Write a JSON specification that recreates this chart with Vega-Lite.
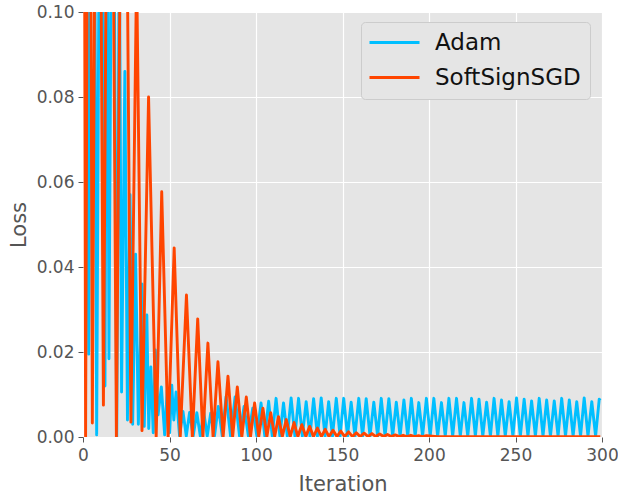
{
  "$schema": "https://vega.github.io/schema/vega-lite/v6.json",
  "width": 519,
  "height": 425,
  "autosize": {"type": "none"},
  "padding": {"left": 83, "top": 12, "right": 16, "bottom": 58},
  "background": "white",
  "config": {
    "view": {"fill": "#E5E5E5", "stroke": null},
    "axis": {
      "domain": false,
      "grid": true,
      "gridColor": "#FFFFFF",
      "gridWidth": 1.2,
      "tickColor": "#555555",
      "tickSize": 5,
      "tickWidth": 1,
      "labelColor": "#555555",
      "labelFont": "DejaVu Sans",
      "labelFontSize": 17,
      "titleColor": "#555555",
      "titleFont": "DejaVu Sans",
      "titleFontSize": 21,
      "titleFontWeight": "normal"
    }
  },
  "datasets": {
    "adam": [
      {"it": 0, "loss": 0.30}, {"it": 3.3, "loss": 0.0195}, {"it": 5.6, "loss": 0.25}, {"it": 7.9, "loss": 0.0005},
      {"it": 10.3, "loss": 0.20}, {"it": 12.7, "loss": 0.012}, {"it": 13.9, "loss": 0.15}, {"it": 15.0, "loss": 0.0184},
      {"it": 17.2, "loss": 0.18}, {"it": 19.5, "loss": 0.0}, {"it": 21.0, "loss": 0.12}, {"it": 22.3, "loss": 0.0106},
      {"it": 24.2, "loss": 0.086}, {"it": 25.7, "loss": 0.004}, {"it": 27.2, "loss": 0.057}, {"it": 28.7, "loss": 0.003},
      {"it": 30.4, "loss": 0.043}, {"it": 32.0, "loss": 0.003}, {"it": 34.1, "loss": 0.036}, {"it": 35.4, "loss": 0.0025},
      {"it": 36.9, "loss": 0.0287}, {"it": 38.0, "loss": 0.002}, {"it": 39.2, "loss": 0.0165}, {"it": 40.6, "loss": 0.001},
      {"it": 41.8, "loss": 0.0205}, {"it": 43.4, "loss": 0.0052}, {"it": 45.3, "loss": 0.0118}, {"it": 47.2, "loss": 0.0005},
      {"it": 48.7, "loss": 0.011}, {"it": 50.1, "loss": 0.001}, {"it": 51.3, "loss": 0.0122}, {"it": 52.5, "loss": 0.004},
      {"it": 53.8, "loss": 0.0106}, {"it": 55.8, "loss": 0.0003}, {"it": 57.8, "loss": 0.0060}, {"it": 59.7, "loss": 0.0002},
      {"it": 61.6, "loss": 0.0058}, {"it": 63.7, "loss": 0.0002}, {"it": 65.8, "loss": 0.0057}, {"it": 67.8, "loss": 0.0002},
      {"it": 69.8, "loss": 0.0059}, {"it": 71.8, "loss": 0.0002}, {"it": 73.8, "loss": 0.0056}, {"it": 76.0, "loss": 0.0002},
      {"it": 78.2, "loss": 0.0072}, {"it": 80.5, "loss": 0.0002}, {"it": 82.7, "loss": 0.0095}, {"it": 85.3, "loss": 0.0002},
      {"it": 87.9, "loss": 0.0094}, {"it": 90.5, "loss": 0.0002}, {"it": 93.1, "loss": 0.0072}, {"it": 95.6, "loss": 0.0002},
      {"it": 98.1, "loss": 0.0068}, {"it": 100.5, "loss": 0.0002},
      {"it": 102.9, "loss": 0.0080}, {"it": 105.1, "loss": 0.0002}, {"it": 107.3, "loss": 0.0084}, {"it": 109.4, "loss": 0.0002},
      {"it": 111.6, "loss": 0.0091}, {"it": 113.8, "loss": 0.0002}, {"it": 115.9, "loss": 0.0080}, {"it": 118.1, "loss": 0.0002},
      {"it": 120.3, "loss": 0.0092}, {"it": 122.5, "loss": 0.0002}, {"it": 124.6, "loss": 0.0091}, {"it": 126.8, "loss": 0.0002},
      {"it": 129.0, "loss": 0.0083}, {"it": 131.2, "loss": 0.0002}, {"it": 133.3, "loss": 0.0090}, {"it": 135.5, "loss": 0.0002},
      {"it": 137.7, "loss": 0.0092}, {"it": 139.9, "loss": 0.0002}, {"it": 142.0, "loss": 0.0083}, {"it": 144.2, "loss": 0.0002},
      {"it": 146.4, "loss": 0.0091}, {"it": 148.6, "loss": 0.0002}, {"it": 150.7, "loss": 0.0091}, {"it": 152.9, "loss": 0.0002},
      {"it": 155.0, "loss": 0.0082}, {"it": 157.2, "loss": 0.0002}, {"it": 159.4, "loss": 0.0091}, {"it": 161.6, "loss": 0.0002},
      {"it": 163.7, "loss": 0.0090}, {"it": 165.9, "loss": 0.0002}, {"it": 168.1, "loss": 0.0082}, {"it": 170.3, "loss": 0.0002},
      {"it": 172.4, "loss": 0.0091}, {"it": 174.6, "loss": 0.0002}, {"it": 176.8, "loss": 0.0090}, {"it": 179.0, "loss": 0.0002},
      {"it": 181.1, "loss": 0.0082}, {"it": 183.3, "loss": 0.0002}, {"it": 185.5, "loss": 0.0087}, {"it": 187.7, "loss": 0.0002},
      {"it": 189.8, "loss": 0.0091}, {"it": 192.0, "loss": 0.0002}, {"it": 194.1, "loss": 0.0081}, {"it": 196.3, "loss": 0.0002},
      {"it": 198.5, "loss": 0.0091}, {"it": 200.7, "loss": 0.0002}, {"it": 202.8, "loss": 0.0091}, {"it": 205.0, "loss": 0.0002},
      {"it": 207.2, "loss": 0.0081}, {"it": 209.4, "loss": 0.0002}, {"it": 211.5, "loss": 0.0091}, {"it": 213.7, "loss": 0.0002},
      {"it": 215.9, "loss": 0.0091}, {"it": 218.1, "loss": 0.0002}, {"it": 220.2, "loss": 0.0081}, {"it": 222.4, "loss": 0.0002},
      {"it": 224.6, "loss": 0.0091}, {"it": 226.8, "loss": 0.0002}, {"it": 228.9, "loss": 0.0089}, {"it": 231.1, "loss": 0.0002},
      {"it": 233.3, "loss": 0.0082}, {"it": 235.5, "loss": 0.0002}, {"it": 237.6, "loss": 0.0091}, {"it": 239.8, "loss": 0.0002},
      {"it": 241.9, "loss": 0.0087}, {"it": 244.1, "loss": 0.0002}, {"it": 246.3, "loss": 0.0083}, {"it": 248.5, "loss": 0.0002},
      {"it": 250.6, "loss": 0.0092}, {"it": 252.8, "loss": 0.0002}, {"it": 255.0, "loss": 0.0089}, {"it": 257.2, "loss": 0.0002},
      {"it": 259.3, "loss": 0.0085}, {"it": 261.5, "loss": 0.0002}, {"it": 263.7, "loss": 0.0091}, {"it": 265.9, "loss": 0.0002},
      {"it": 268.0, "loss": 0.0087}, {"it": 270.2, "loss": 0.0002}, {"it": 272.4, "loss": 0.0085}, {"it": 274.6, "loss": 0.0002},
      {"it": 276.7, "loss": 0.0091}, {"it": 278.9, "loss": 0.0002}, {"it": 281.1, "loss": 0.0087}, {"it": 283.3, "loss": 0.0002},
      {"it": 285.4, "loss": 0.0083}, {"it": 287.6, "loss": 0.0002}, {"it": 289.7, "loss": 0.0092}, {"it": 291.9, "loss": 0.0002},
      {"it": 294.1, "loss": 0.0083}, {"it": 296.3, "loss": 0.0002}, {"it": 298.4, "loss": 0.0089}, {"it": 299.0, "loss": 0.0086}
    ],
    "ssgd": [
      {"it": 0, "loss": 0.30}, {"it": 1.5, "loss": 0.0}, {"it": 3.5, "loss": 0.25}, {"it": 5.4, "loss": 0.0033},
      {"it": 8.5, "loss": 0.25}, {"it": 11.8, "loss": 0.0075}, {"it": 15.5, "loss": 0.25}, {"it": 19.3, "loss": 0.0},
      {"it": 23.5, "loss": 0.22}, {"it": 27.7, "loss": 0.0035}, {"it": 31.0, "loss": 0.11}, {"it": 34.1, "loss": 0.0015},
      {"it": 37.9, "loss": 0.080}, {"it": 42.3, "loss": 0.0}, {"it": 45.5, "loss": 0.0577}, {"it": 49.2, "loss": 0.0},
      {"it": 52.7, "loss": 0.0445}, {"it": 56.2, "loss": 0.0}, {"it": 59.8, "loss": 0.0334}, {"it": 63.2, "loss": 0.0},
      {"it": 66.3, "loss": 0.0278}, {"it": 69.3, "loss": 0.0}, {"it": 72.2, "loss": 0.0221}, {"it": 75.2, "loss": 0.0},
      {"it": 78.0, "loss": 0.0177}, {"it": 81.0, "loss": 0.0}, {"it": 83.8, "loss": 0.0143}, {"it": 86.5, "loss": 0.0},
      {"it": 89.2, "loss": 0.0118}, {"it": 91.8, "loss": 0.0}, {"it": 94.4, "loss": 0.0094}, {"it": 96.8, "loss": 0.0},
      {"it": 99.2, "loss": 0.0080}, {"it": 101.6, "loss": 0.0001}, {"it": 104.0, "loss": 0.0068}, {"it": 106.3, "loss": 0.0001},
      {"it": 108.5, "loss": 0.0057}, {"it": 110.8, "loss": 0.0001}, {"it": 113.0, "loss": 0.0048}, {"it": 115.2, "loss": 0.0001},
      {"it": 117.5, "loss": 0.0041}, {"it": 119.8, "loss": 0.0001}, {"it": 122.0, "loss": 0.0034}, {"it": 124.2, "loss": 0.0001},
      {"it": 126.5, "loss": 0.0029}, {"it": 128.8, "loss": 0.0001}, {"it": 131.0, "loss": 0.0025}, {"it": 133.2, "loss": 0.0001},
      {"it": 135.5, "loss": 0.0021}, {"it": 137.8, "loss": 0.0001}, {"it": 140.0, "loss": 0.0018}, {"it": 142.2, "loss": 0.0001},
      {"it": 144.5, "loss": 0.0016}, {"it": 146.8, "loss": 0.0001}, {"it": 149.0, "loss": 0.0014}, {"it": 151.2, "loss": 0.0001},
      {"it": 153.5, "loss": 0.0012}, {"it": 155.8, "loss": 0.0001}, {"it": 158.0, "loss": 0.0010}, {"it": 160.2, "loss": 0.0001},
      {"it": 162.5, "loss": 0.0009}, {"it": 164.8, "loss": 0.0001}, {"it": 167.0, "loss": 0.0008}, {"it": 169.2, "loss": 0.0001},
      {"it": 171.5, "loss": 0.0007}, {"it": 173.8, "loss": 0.0001}, {"it": 176.0, "loss": 0.0006}, {"it": 178.2, "loss": 0.0001},
      {"it": 180.5, "loss": 0.0005}, {"it": 182.8, "loss": 0.0001}, {"it": 185.0, "loss": 0.0004}, {"it": 187.2, "loss": 0.0001},
      {"it": 189.5, "loss": 0.0004}, {"it": 191.8, "loss": 0.0001}, {"it": 194.0, "loss": 0.0003}, {"it": 196.2, "loss": 0.0001},
      {"it": 198.5, "loss": 0.0003}, {"it": 205.0, "loss": 0.0001}, {"it": 250.0, "loss": 0.0001}, {"it": 299.0, "loss": 0.0001}
    ]
  },
  "layer": [
    {
      "data": {"name": "adam"},
      "mark": {"type": "line", "clip": true, "strokeWidth": 2.9, "strokeJoin": "round"},
      "encoding": {
        "x": {"field": "it", "type": "quantitative", "scale": {"domain": [0, 300], "nice": false},
              "axis": {"values": [0, 50, 100, 150, 200, 250, 300], "title": "Iteration", "labelPadding": 5, "titlePadding": 10, "labelFlush": false}},
        "y": {"field": "loss", "type": "quantitative", "scale": {"domain": [0, 0.1], "nice": false},
              "axis": {"values": [0, 0.02, 0.04, 0.06, 0.08, 0.1], "format": ".2f", "title": "Loss", "labelPadding": 4, "titlePadding": 7, "labelFlush": false}},
        "color": {"datum": "Adam", "type": "nominal",
                  "scale": {"domain": ["Adam", "SoftSignSGD"], "range": ["#00BFFF", "#FF4500"]},
                  "legend": {"title": null, "orient": "none", "legendX": 278, "legendY": 10,
                             "symbolType": "M-2.4,0H7.6", "symbolSize": 100, "symbolStrokeWidth": 3,
                             "labelOffset": 42, "labelFontSize": 23, "labelFont": "DejaVu Sans", "labelColor": "#111111",
                             "padding": 9, "rowPadding": 11, "fillColor": "#E5E5E5", "strokeColor": "#CCCCCC", "cornerRadius": 4}}
      }
    },
    {
      "data": {"name": "ssgd"},
      "mark": {"type": "line", "clip": true, "strokeWidth": 2.9, "strokeJoin": "round"},
      "encoding": {
        "x": {"field": "it", "type": "quantitative"},
        "y": {"field": "loss", "type": "quantitative"},
        "color": {"datum": "SoftSignSGD", "type": "nominal"}
      }
    }
  ]
}
